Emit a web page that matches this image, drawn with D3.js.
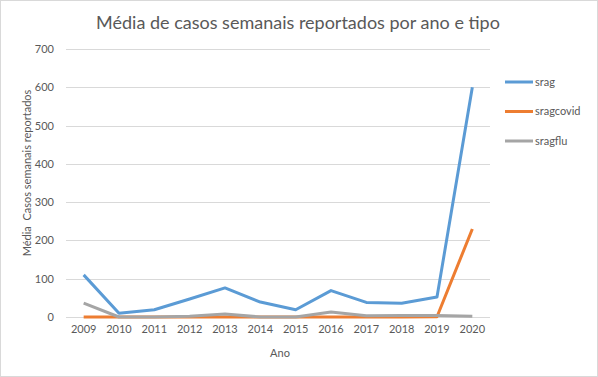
<!DOCTYPE html>
<html>
<head>
<meta charset="utf-8">
<script src="https://cdn.jsdelivr.net/npm/d3@7"></script>
<style>
  body { margin: 0; background: #fff; }
  text { font-family: "Lato", "Open Sans", sans-serif; fill: #595959; }
</style>
</head>
<body>
<div id="chart"></div>
<script>
// data
var years = ["2009","2010","2011","2012","2013","2014","2015","2016","2017","2018","2019","2020"];
var srag      = [110, 10, 19, 47, 76, 39, 19, 69, 38, 36, 52, 600];
var sragcovid = [0, 0, 0, 0, 0, 0, 0, 0, 0, 0, 0.5, 230];
var sragflu   = [36, 0, 0, 2, 8, 0, 0, 13, 3, 4, 4, 2];
var seriesNames = ["srag", "sragcovid", "sragflu"];
var yTicks = [0, 100, 200, 300, 400, 500, 600, 700];

var w = 598, h = 377;
var margin = {left: 66, right: 108, top: 49, bottom: 60};
var colors = d3.scaleOrdinal().domain(seriesNames).range(["#5B9BD5", "#ED7D31", "#A5A5A5"]);

var svg = d3.select("#chart").append("svg")
    .attr("width", w).attr("height", h);

svg.append("rect")
    .attr("x", 0.5).attr("y", 0.5)
    .attr("width", w - 1).attr("height", h - 1)
    .attr("fill", "#fff").attr("stroke", "#d9d9d9");

var xScale = d3.scaleBand()
    .domain(years)
    .range([margin.left, w - margin.right]);

var yScale = d3.scaleLinear()
    .domain([0, 700])
    .range([h - margin.bottom, margin.top]);

// gridlines
svg.append("g").selectAll("line")
    .data(yTicks)
    .enter().append("line")
    .attr("x1", margin.left).attr("x2", w - margin.right)
    .attr("y1", function(d) { return Math.round(yScale(d)) + 0.5; })
    .attr("y2", function(d) { return Math.round(yScale(d)) + 0.5; })
    .attr("stroke", "#d9d9d9");

var yAxis = d3.axisLeft(yScale).tickValues(yTicks).tickSize(0).tickPadding(12);
var gy = svg.append("g")
    .attr("transform", "translate(" + margin.left + ",0)")
    .call(yAxis);
gy.select(".domain").remove();
gy.selectAll("text").style("font-size", "11px").attr("fill", "#595959");

var xAxis = d3.axisBottom(xScale).tickSize(0).tickPadding(8);
var gx = svg.append("g")
    .attr("transform", "translate(0," + (h - margin.bottom) + ")")
    .call(xAxis);
gx.select(".domain").remove();
gx.selectAll("text").style("font-size", "11px").attr("fill", "#595959");

var allSeries = {srag: srag, sragcovid: sragcovid, sragflu: sragflu};
var line = d3.line()
    .x(function(d, i) { return xScale(years[i]) + xScale.bandwidth() / 2; })
    .y(function(d) { return yScale(d); });

// blue drawn last so it stays on top
["sragcovid", "sragflu", "srag"].forEach(function(name) {
    svg.append("path")
        .datum(allSeries[name])
        .attr("fill", "none")
        .attr("stroke", colors(name))
        .attr("stroke-width", 3)
        .attr("stroke-linejoin", "round")
        .attr("d", line);
});

// title
svg.append("text")
    .attr("x", 298).attr("y", 29)
    .attr("text-anchor", "middle")
    .style("font-size", "18px")
    .text("Média de casos semanais reportados por ano e tipo");

// axis titles
svg.append("text")
    .attr("x", (margin.left + w - margin.right) / 2 + 2)
    .attr("y", 357)
    .attr("text-anchor", "middle")
    .style("font-size", "11px")
    .text("Ano");

svg.append("text")
    .attr("transform", "translate(31,173) rotate(-90)")
    .attr("text-anchor", "middle")
    .style("font-size", "11px")
    .style("white-space", "pre")
    .text("Média  Casos semanais reportados");

// legend
var legend = svg.append("g").selectAll("g")
    .data(seriesNames)
    .enter().append("g")
    .attr("transform", function(d, i) { return "translate(505," + (82 + i * 29.5) + ")"; });

legend.append("line")
    .attr("x1", 0).attr("x2", 28)
    .attr("stroke", function(d) { return colors(d); })
    .attr("stroke-width", 3);

legend.append("text")
    .attr("x", 30).attr("dy", "0.35em")
    .style("font-size", "11px")
    .text(function(d) { return d; });
</script>
</body>
</html>
